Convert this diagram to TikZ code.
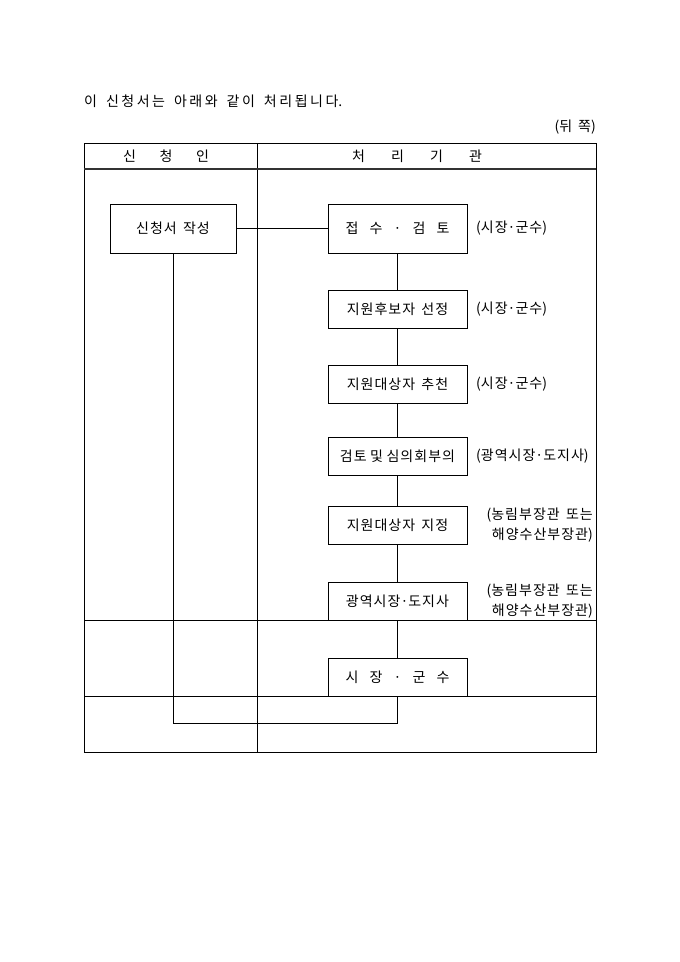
\documentclass[tikz,border=0pt]{standalone}
\usepackage{fontspec}
\setmainfont[WordSpace=2]{Noto Sans CJK KR}
\usepackage{tikz}
% wider pitch between Hangul syllables
\XeTeXinterchartokenstate=1
\newXeTeXintercharclass\hangulclass
\count255="AC00
\loop \XeTeXcharclass\count255=\hangulclass
  \ifnum\count255<"D7A3 \advance\count255 by 1 \repeat
\XeTeXinterchartoks\hangulclass\hangulclass={\hskip1pt\relax}

\begin{document}
\begin{tikzpicture}[x=1pt,y=-1pt,font=\fontsize{14pt}{20pt}\selectfont,
    box/.style={draw,line width=0.8pt,fill=white,minimum width=139pt,minimum height=38pt,inner sep=0pt},
    who/.style={anchor=west,inner sep=0pt},
    who2/.style={anchor=east,align=right,inner sep=0pt},
    rule/.style={line width=0.8pt}]
        \useasboundingbox (0,0) rectangle (680,962);
        % table
        \draw[rule] (84,143) rectangle (596,752);
        \draw[rule] (257,143) -- (257,752);
        \draw[line width=1.2pt,black!80] (84,169) -- (596,169);
        \draw[rule] (84,620) -- (596,620);
        \draw[rule] (84,696) -- (596,696);
        \node[anchor=west,inner sep=0pt] (T) at (84,101) {\XeTeXinterchartoks\hangulclass\hangulclass={\hskip2.5pt\relax}\spaceskip=9pt 이 신청서는 아래와 같이 처리됩니다.};
        \node[anchor=east,inner sep=0pt] (TT) at (596,127) {(뒤\hspace{6pt}쪽)};
        \node (H1) at (166,156) {\makebox[86pt]{신\hfill 청\hfill 인}};
        \node (H2) at (417,156) {\makebox[130pt]{처\hfill 리\hfill 기\hfill 관}};

        \node[box,minimum width=126pt,minimum height=49pt] (A) at (173,228.5) {신청서 작성};
        \node[box,minimum height=49pt] (B) at (397.5,228.5) {\makebox[104pt]{접\hfill 수\hfill ·\hfill 검\hfill 토}};
        \node[who] (BB) at (476,228.5) {(시장·군수)};
        \node[box] (C) at (397.5,309.5) {지원후보자 선정};
        \node[who] (CC) at (476,309.5) {(시장·군수)};
        \node[box] (D) at (397.5,384.5) {지원대상자 추천};
        \node[who] (DD) at (476,384.5) {(시장·군수)};
        \node[box] (E) at (397.5,456) {\spaceskip=3.5pt 검토 및 심의회부의};
        \node[who] (EE) at (476,456) {(광역시장·도지사)};
        \node[box] (F) at (397.5,525) {지원대상자 지정};
        \node[who2] (FF) at (593,525) {(농림부장관 또는\\해양수산부장관)};
        \node[box] (G) at (397.5,601) {광역시장·도지사};
        \node[who2] (GG) at (593,601) {(농림부장관 또는\\해양수산부장관)};
        \node[box] (H) at (397.5,677) {\makebox[104pt]{시\hfill 장\hfill ·\hfill 군\hfill 수}};
        \coordinate (K) at (397.5,723);

            \draw[rule] (A) -- (B);
            \draw[rule] (B) -- (C) -- (D) -- (E) -- (F) -- (G) -- (H);
            \draw[rule] (H) -- (K) -| (A);

    \end{tikzpicture}
\end{document}
